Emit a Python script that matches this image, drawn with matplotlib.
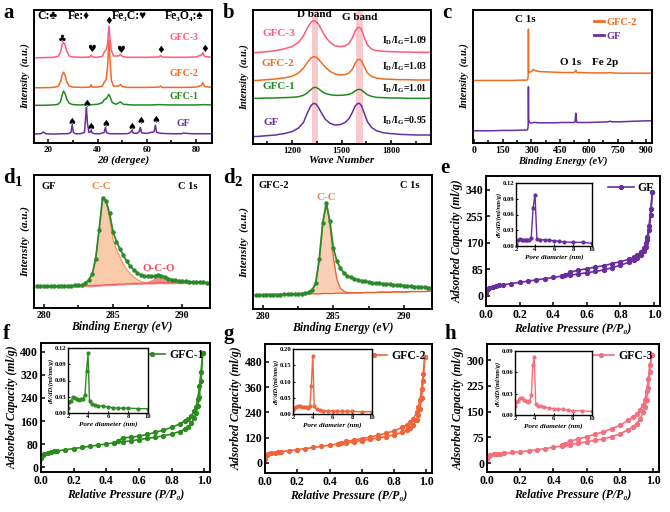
import matplotlib
matplotlib.use('Agg')
import matplotlib.pyplot as plt
from matplotlib.lines import Line2D
from matplotlib.ticker import MultipleLocator, FormatStrFormatter
import numpy as np

W, H = 670, 512
plt.rcParams['font.family'] = ['Liberation Serif', 'DejaVu Serif', 'DejaVu Sans']
plt.rcParams['font.weight'] = 'bold'
plt.rcParams['axes.labelweight'] = 'bold'
plt.rcParams['axes.linewidth'] = 1.4
plt.rcParams['xtick.direction'] = 'in'
plt.rcParams['ytick.direction'] = 'in'
plt.rcParams['mathtext.fontset'] = 'custom'
plt.rcParams['mathtext.rm'] = 'Liberation Serif:bold'
plt.rcParams['mathtext.it'] = 'Liberation Serif:italic:bold'
plt.rcParams['mathtext.bf'] = 'Liberation Serif:bold'

# ---------------- colours ----------------
C_GFC3 = '#FF5A7D'
C_GFC2 = '#F26A21'
C_GFC1 = '#1F8C1F'
C_GF = '#6A2DA0'

# ---------------- (a) XRD ----------------
xrd_gf_x = [14, 17, 18, 19, 22, 25, 28, 29.2, 29.7, 30.2, 31, 33, 34.7, 35.2, 35.5, 35.9, 36.5,
            37.0, 37.4, 37.9, 39, 41, 42.7, 43.2, 43.7, 45, 48, 52, 53.5, 54.0, 54.5, 56, 56.9,
            57.4, 57.9, 60, 63.0, 63.5, 64.0, 66, 70, 74, 75, 78, 82, 86.5]
xrd_gf_y = [27, 28, 33, 28, 27, 28, 28, 32, 54, 32, 28, 28, 32, 80, 107, 60, 32, 33, 38, 30,
            28, 28, 32, 47, 31, 28, 28, 28, 32, 38, 30, 29, 34, 47, 31, 29, 34, 54, 32, 29,
            28, 28, 30, 28, 28, 28]
xrd_gfc1_x = [14, 18, 22, 24, 25, 25.6, 26.2, 26.8, 27.5, 28.5, 30, 33, 35, 35.5, 36.5, 38, 40,
              42, 42.8, 43.5, 44.2, 44.6, 45.2, 46, 47.5, 48.7, 49.3, 50.5, 54, 58, 62, 65, 70,
              75, 80, 83, 86.5]
xrd_gfc1_y = [114, 114, 115, 117, 125, 145, 157, 150, 132, 120, 116, 115, 116, 121, 116, 116,
              117, 122, 132, 133, 142, 147, 138, 122, 117, 122, 124, 117, 115, 115, 115, 116,
              115, 115, 115, 116, 115]
xrd_gfc_x = [14, 18, 22, 24, 25, 25.6, 26.2, 26.8, 27.5, 28.5, 30, 34, 37, 37.4, 37.9, 40, 42,
             42.8, 43.5, 44.1, 44.6, 45.0, 45.6, 46.5, 48.6, 49.3, 50, 52, 56, 60, 65.0, 65.6,
             66.2, 70, 75, 80, 82.2, 82.8, 83.4, 86.5]
xrd_gfc2_y = [167, 167, 168, 171, 185, 205, 214, 205, 185, 172, 169, 168, 169, 176, 169, 169,
              172, 185, 192, 230, 312, 260, 190, 172, 172, 177, 171, 168, 168, 168, 169, 172,
              168, 168, 168, 169, 174, 182, 171, 168]
xrd_gfc3_y = [257, 258, 259, 262, 275, 297, 304, 297, 278, 263, 260, 259, 260, 266, 260, 259,
              262, 276, 282, 300, 354, 320, 280, 263, 263, 268, 262, 259, 259, 259, 260, 264,
              260, 259, 259, 260, 266, 273, 262, 259]
xrd_sym_x = [25.7, 37.4, 44.6, 49.3, 65.8, 83.4, 29.7, 35.5, 37.4, 43.2, 54.0, 57.4, 63.5]
xrd_sym_y = [314, 284, 370, 282, 280, 284, 64, 119, 47, 57, 49, 67, 70]
xrd_sym = ['♣', '♥', '♦', '♥', '♦', '♦', '♠', '♠', '♠', '♠', '♠', '♠', '♠']

# ---------------- (b) Raman ----------------
raman_x = [965, 1000, 1050, 1100, 1150, 1200, 1240, 1270, 1295, 1315, 1330, 1345, 1360, 1380,
           1400, 1430, 1460, 1490, 1520, 1545, 1565, 1580, 1595, 1608, 1620, 1635, 1655, 1680,
           1710, 1750, 1800, 1850, 1900, 1950, 2000, 2040]
raman_gf = [22, 23, 25, 27, 31, 37, 48, 65, 95, 115, 122, 120, 110, 92, 75, 62, 57, 58, 64, 76,
            95, 112, 121, 122, 115, 95, 68, 50, 40, 34, 31, 29, 28, 27, 27, 27]
raman_gfc1 = [137, 137, 138, 138, 139, 140, 142, 146, 154, 163, 169, 170, 166, 158, 152, 148,
              146, 146, 147, 149, 153, 159, 163, 164, 162, 156, 148, 143, 140, 139, 138, 138,
              137, 137, 137, 137]
raman_gfc2 = [190, 191, 193, 195, 198, 203, 213, 228, 246, 258, 262, 261, 255, 243, 231, 218,
              210, 207, 208, 213, 224, 240, 252, 254, 249, 234, 214, 203, 198, 195, 194, 193,
              193, 192, 192, 192]
raman_gfc3 = [274, 275, 277, 280, 285, 292, 305, 325, 350, 365, 370, 368, 360, 342, 323, 305,
              295, 292, 294, 302, 318, 338, 348, 350, 344, 322, 298, 285, 280, 278, 277, 276,
              276, 275, 275, 275]
idig_values = ['1.09', '1.03', '1.01', '0.95']

# ---------------- (c) XPS survey ----------------
xps_x = [-5, 50, 100, 150, 200, 250, 270, 280, 283, 284.5, 286, 290, 300, 310, 320, 340, 380,
         420, 460, 500, 520, 528, 532, 536, 545, 600, 650, 700, 710, 720, 760, 800, 850, 900, 930]
xps_gfc2 = [189, 189, 189, 189, 189, 190, 190, 191, 200, 344, 215, 214, 216, 222, 219, 216, 215,
            214, 213, 213, 213, 215, 220, 214, 213, 212, 212, 212, 213, 212, 211, 211, 211, 211, 211]
xps_gf = [37, 37, 37, 38, 38, 39, 39, 40, 50, 170, 70, 62, 60, 62, 62, 61, 61, 61, 62, 62, 62,
          64, 90, 63, 62, 62, 63, 64, 66, 64, 64, 65, 66, 67, 67]

# ---------------- (d1, d2) C 1s ----------------
be_x = [279.5, 279.75, 280.0, 280.25, 280.5, 280.75, 281.0, 281.25, 281.5, 281.75,
        282.0, 282.25, 282.5, 282.75, 283.0, 283.25, 283.5, 283.75, 284.0, 284.25,
        284.5, 284.75, 285.0, 285.25, 285.5, 285.75, 286.0, 286.25, 286.5, 286.75,
        287.0, 287.25, 287.5, 287.75, 288.0, 288.25, 288.5, 288.75, 289.0, 289.25,
        289.5, 289.75, 290.0, 290.25, 290.5, 290.75, 291.0, 291.25, 291.5, 291.75,
        292.0]
d1_env = [66, 66, 66, 66, 66, 66, 66, 67, 67, 67,
          67, 68, 68, 70, 74, 84, 102, 148, 236, 332,
          322, 285, 230, 200, 178, 158, 140, 126, 115, 106,
          100, 97, 95, 95, 97, 99, 97, 92, 88, 85,
          83, 82, 81, 80, 79, 78, 78, 77, 77, 76,
          76]
d1_bg = [64, 64, 64, 64, 65, 65, 65, 65, 65, 66,
         66, 66, 66, 66, 67, 67, 67, 68, 68, 69,
         70, 70, 71, 71, 72, 72, 73, 73, 74, 74,
         74, 75, 75, 75, 75, 76, 76, 76, 76, 76,
         76, 76, 76, 76, 76, 76, 76, 76, 76, 76,
         76]
d1_cc = [0, 0, 0, 0, 0, 0, 0, 0, 0, 0,
         0, 0, 0, 2, 7, 16, 34, 80, 168, 262,
         252, 200, 135, 105, 82, 60, 42, 30, 20, 12,
         6, 2, 0, 0, 0, 0, 0, 0, 0, 0,
         0, 0, 0, 0, 0, 0, 0, 0, 0, 0,
         0]
d1_oco = [0, 0, 0, 0, 0, 0, 0, 0, 0, 0,
          0, 0, 0, 0, 0, 0, 0, 0, 0, 0,
          0, 0, 0, 0, 0, 0, 0, 0, 0, 0,
          1, 3, 6, 10, 16, 20, 18, 13, 8, 5,
          3, 1, 0, 0, 0, 0, 0, 0, 0, 0,
          0]
d2_env = [43, 43, 43, 44, 44, 44, 44, 44, 45, 45,
          45, 46, 46, 47, 48, 51, 58, 80, 152, 262,
          322, 268, 185, 145, 124, 110, 101, 96, 92, 89,
          86, 84, 82, 80, 79, 78, 77, 76, 75, 74,
          73, 72, 71, 70, 69, 68, 68, 67, 66, 65,
          64]
d2_bg = [42, 42, 42, 43, 43, 43, 43, 44, 44, 44,
         44, 45, 45, 45, 45, 46, 46, 46, 46, 47,
         47, 47, 47, 48, 48, 48, 48, 49, 49, 49,
         49, 50, 50, 50, 50, 51, 51, 51, 51, 52,
         52, 52, 52, 52, 53, 53, 53, 53, 53, 54,
         54]
d2_cc = [0, 0, 0, 0, 0, 0, 0, 0, 0, 0,
         0, 0, 0, 0, 0, 2, 8, 30, 100, 210,
         272, 215, 110, 42, 15, 6, 2, 0, 0, 0,
         0, 0, 0, 0, 0, 0, 0, 0, 0, 0,
         0, 0, 0, 0, 0, 0, 0, 0, 0, 0,
         0]

# ---------------- (e-h) N2 isotherms ----------------
p_ads = [0.0, 0.01, 0.02, 0.04, 0.06, 0.08, 0.1, 0.15, 0.2, 0.25, 0.3, 0.35, 0.4, 0.45, 0.5,
         0.55, 0.6, 0.65, 0.7, 0.75, 0.8, 0.85, 0.88, 0.9, 0.92, 0.94, 0.95, 0.96, 0.97, 0.98, 0.99]
p_des = [0.99, 0.98, 0.97, 0.96, 0.95, 0.94, 0.92, 0.9, 0.88, 0.85, 0.8, 0.75, 0.7, 0.65, 0.6,
         0.55, 0.5, 0.47, 0.45]
gf_ads = [8, 22, 26, 29, 31, 33, 35, 39, 43, 47, 51, 55, 59, 63, 66, 70, 74, 78, 83, 90, 98,
          108, 115, 121, 130, 145, 158, 178, 210, 260, 335]
gf_des = [335, 280, 225, 190, 170, 155, 140, 130, 124, 117, 110, 103, 97, 92, 87, 82, 76, 66, 63]
gfc1_ads = [32, 42, 46, 50, 53, 55, 57, 61, 65, 69, 73, 77, 81, 85, 88, 92, 96, 100, 104, 109,
            115, 124, 132, 140, 152, 172, 188, 212, 245, 300, 395]
gfc1_des = [395, 330, 280, 235, 210, 195, 178, 168, 160, 150, 138, 129, 121, 114, 108, 104, 102,
            90, 85]
gfc2_ads = [20, 38, 43, 46, 49, 51, 53, 58, 63, 68, 73, 78, 84, 89, 95, 100, 106, 112, 118, 125,
            133, 145, 156, 166, 182, 205, 225, 255, 310, 390, 500]
gfc2_des = [500, 420, 350, 300, 265, 240, 210, 192, 180, 168, 152, 140, 131, 122, 115, 108, 102,
            94, 90]
gfc3_ads = [12, 20, 23, 25, 26, 27, 28, 31, 33, 36, 39, 42, 46, 50, 54, 58, 62, 66, 71, 77, 85,
            97, 106, 115, 128, 148, 162, 185, 220, 265, 315]
gfc3_des = [315, 285, 245, 210, 185, 170, 155, 143, 135, 125, 110, 100, 91, 84, 77, 70, 64, 57, 53]

psd_gf_x = [2.0, 2.2, 2.4, 2.6, 2.8, 3.0, 3.2, 3.4, 3.6, 3.8, 4.0, 4.2, 4.5, 5.0, 5.5, 6.0, 6.5,
            7.0, 8.0, 9.0, 10.0]
psd_gf_y = [0.003, 0.012, 0.013, 0.012, 0.012, 0.011, 0.011, 0.012, 0.015, 0.073, 0.098, 0.013,
            0.012, 0.012, 0.011, 0.010, 0.009, 0.008, 0.007, 0.007, 0.005]
psd_x = [2.0, 2.1, 2.3, 2.5, 2.7, 2.9, 3.1, 3.3, 3.5, 3.7, 3.85, 4.0, 4.15, 4.4, 4.7, 5.0, 5.5,
         6.0, 6.5, 7.0, 7.5, 8.0, 9.0, 10.0]
psd_gfc1_y = [0.010, 0.020, 0.022, 0.030, 0.028, 0.025, 0.024, 0.026, 0.026, 0.034, 0.078, 0.110,
              0.022, 0.016, 0.014, 0.013, 0.013, 0.011, 0.010, 0.009, 0.009, 0.009, 0.008, 0.008]
psd_gfc2_y = [0.012, 0.020, 0.022, 0.025, 0.024, 0.023, 0.022, 0.021, 0.020, 0.025, 0.085, 0.180,
              0.025, 0.014, 0.011, 0.010, 0.009, 0.009, 0.008, 0.008, 0.008, 0.008, 0.007, 0.007]
psd_gfc3_y = [0.012, 0.018, 0.020, 0.024, 0.024, 0.021, 0.019, 0.018, 0.019, 0.028, 0.070, 0.082,
              0.015, 0.013, 0.012, 0.011, 0.010, 0.009, 0.008, 0.008, 0.007, 0.006, 0.006, 0.005]

# ================= figure =================
fig = plt.figure(figsize=(W / 100, H / 100), dpi=100)


def box(l, t, r, b):
    return fig.add_axes([l / W, 1 - b / H, (r - l) / W, (b - t) / H])


def letter(x, y, s):
    fig.text(x / W, 1 - y / H, s, fontsize=15, fontweight='bold', ha='left', va='center')


def spec_axes(ax, xlabel, xsize=8, ysize=7.5, tsize=6.5):
    ax.set_yticks([])
    ax.set_xlabel(xlabel, fontsize=xsize, fontstyle='italic', labelpad=1)
    ax.set_ylabel('Intensity  (a.u.)', fontsize=ysize, fontstyle='italic', labelpad=3)
    ax.tick_params(axis='x', which='both', labelsize=tsize, width=1.1, pad=2)
    ax.tick_params(axis='x', which='major', length=3)
    ax.tick_params(axis='x', which='minor', length=2)


# ---- a ----
ax = box(34, 10, 212, 143)
ax.plot(xrd_gf_x, xrd_gf_y, color=C_GF, lw=1.1)
ax.plot(xrd_gfc1_x, xrd_gfc1_y, color=C_GFC1, lw=1.1)
ax.plot(xrd_gfc_x, xrd_gfc2_y, color=C_GFC2, lw=1.1)
ax.plot(xrd_gfc_x, xrd_gfc3_y, color=C_GFC3, lw=1.1)
for sx, sy, s in zip(xrd_sym_x, xrd_sym_y, xrd_sym):
    ax.text(sx, sy, s, fontsize=7, ha='center', va='center', family=['DejaVu Sans'])
for lab, yy, c in [('GFC-3', 320, C_GFC3), ('GFC-2', 210, C_GFC2),
                   ('GFC-1', 142, C_GFC1), ('GF', 58, C_GF)]:
    ax.text(75, yy, lab, color=c, fontsize=7, ha='center', va='center')
for xf, s in [(0.018, 'C:♣'), (0.19, 'Fe:♦'), (0.44, 'Fe₃C:♥'), (0.735, 'Fe₃O₄:♠')]:
    ax.text(xf, 0.955, s, transform=ax.transAxes, fontsize=8.5, ha='left', va='center')
ax.set_xlim(14.2, 86.5)
ax.set_ylim(0, 402)
ax.set_xticks([20, 40, 60, 80])
ax.xaxis.set_minor_locator(MultipleLocator(10))
spec_axes(ax, '2θ (dergee)')
letter(3, 13, 'a')

# ---- b ----
ax = box(253, 10, 431, 144)
ax.axvspan(1320, 1356, color='#F9C9CD', zorder=0, lw=0)
ax.axvspan(1590, 1628, color='#F9C9CD', zorder=0, lw=0)
ax.plot(raman_x, raman_gf, color=C_GF, lw=1.1)
ax.plot(raman_x, raman_gfc1, color=C_GFC1, lw=1.1)
ax.plot(raman_x, raman_gfc2, color=C_GFC2, lw=1.1)
ax.plot(raman_x, raman_gfc3, color=C_GFC3, lw=1.1)
for lab, xx, yy, c in [('GFC-3', 1119, 332, C_GFC3), ('GFC-2', 1113, 242, C_GFC2),
                       ('GFC-1', 1119, 172, C_GFC1), ('GF', 1073, 64, C_GF)]:
    ax.text(xx, yy, lab, color=c, fontsize=8, ha='center', va='center')
for v, yy in zip(idig_values, [310, 232, 167, 70]):
    ax.text(2018, yy, r'I$_\mathregular{D}$/I$_\mathregular{G}$=' + v, fontsize=7,
            ha='right', va='center')
ax.text(1335, 388, 'D band', fontsize=8, ha='center', va='center')
ax.text(1608, 380, 'G band', fontsize=8, ha='center', va='center')
ax.set_xlim(965, 2040)
ax.set_ylim(0, 402)
ax.set_xticks([1200, 1500, 1800])
ax.xaxis.set_minor_locator(MultipleLocator(150))
spec_axes(ax, 'Wave Number')
letter(223, 13, 'b')

# ---- c ----
ax = box(473, 10, 652, 143)
ax.plot(xps_x, xps_gfc2, color=C_GFC2, lw=1.1)
ax.plot(xps_x, xps_gf, color=C_GF, lw=1.1)
ax.text(267, 372, 'C 1s', fontsize=8, ha='center', va='center')
ax.text(503, 244, 'O 1s', fontsize=8, ha='center', va='center')
ax.text(684, 244, 'Fe 2p', fontsize=8, ha='center', va='center')
hdl = [Line2D([], [], color=C_GFC2, lw=2), Line2D([], [], color=C_GF, lw=2)]
leg = ax.legend(hdl, ['GFC-2', 'GF'], loc='upper left', bbox_to_anchor=(0.64, 0.99),
                frameon=False, fontsize=7.5, handlelength=1.0, handletextpad=0.2,
                labelspacing=0.45, borderaxespad=0.2)
for t, c in zip(leg.get_texts(), [C_GFC2, C_GF]):
    t.set_color(c)
ax.set_xlim(-5, 930)
ax.set_ylim(0, 402)
ax.set_xticks([0, 150, 300, 450, 600, 750, 900])
ax.xaxis.set_minor_locator(MultipleLocator(75))
spec_axes(ax, 'Binding Energy (eV)', xsize=7.5, tsize=7)
letter(442, 13, 'c')

# ---- d1 ----
be = np.array(be_x)
ax = box(34, 175, 210, 308)
bg = np.array(d1_bg)
ax.fill_between(be, bg, bg + np.array(d1_cc), color='#F8C29C', alpha=0.85, lw=0)
ax.plot(be, bg + np.array(d1_cc), color='#EE9457', lw=0.8)
ax.fill_between(be, bg - 3, bg + np.array(d1_oco), color='#F47A80', alpha=0.85, lw=0)
ax.plot(be, bg, color='#F05A60', lw=0.9)
ax.plot(be, d1_env, '-o', color='#2A8A2A', lw=1.3, ms=2.2)
ax.text(0.04, 0.91, 'GF', transform=ax.transAxes, fontsize=7.5, ha='left', va='center')
ax.text(0.93, 0.91, 'C 1s', transform=ax.transAxes, fontsize=7.5, ha='right', va='center')
ax.text(0.38, 0.91, 'C-C', transform=ax.transAxes, fontsize=8, color='#F08A40',
        ha='center', va='center')
ax.text(0.71, 0.30, 'O-C-O', transform=ax.transAxes, fontsize=8, color='#F04A5A',
        ha='center', va='center')
ax.set_xlim(279.3, 292.0)
ax.set_ylim(0, 400)
ax.set_xticks([280, 285, 290])
ax.xaxis.set_minor_locator(MultipleLocator(2.5))
spec_axes(ax, 'Binding Energy (eV)', xsize=8.5, ysize=8, tsize=7)
letter(3, 177, r'd$_\mathregular{1}$')

# ---- d2 ----
ax = box(253, 175, 432, 309)
bg = np.array(d2_bg)
ax.fill_between(be, bg, bg + np.array(d2_cc), color='#F9C8A8', alpha=0.85, lw=0)
ax.plot(be, bg + np.array(d2_cc), color='#F05A30', lw=0.9)
ax.plot(be, bg, color='#F05A30', lw=0.9)
ax.plot(be, d2_env, '-o', color='#2A8A2A', lw=1.3, ms=2.2)
ax.text(0.03, 0.92, 'GFC-2', transform=ax.transAxes, fontsize=7.5, ha='left', va='center')
ax.text(0.93, 0.92, 'C 1s', transform=ax.transAxes, fontsize=7.5, ha='right', va='center')
ax.text(0.41, 0.835, 'C-C', transform=ax.transAxes, fontsize=8, color='#F08A40',
        ha='center', va='center')
ax.set_xlim(279.3, 292.0)
ax.set_ylim(0, 407)
ax.set_xticks([280, 285, 290])
ax.xaxis.set_minor_locator(MultipleLocator(2.5))
spec_axes(ax, 'Binding Energy (eV)', xsize=8.5, ysize=8, tsize=7)
letter(223, 177, r'd$_\mathregular{2}$')


# ---- e-h ----
def iso(rect, irect, ads, des, px, py, color, label, ylim, yticks, iylim, iyticks):
    ax = box(*rect)
    ax.plot(p_ads, ads, '-o', color=color, lw=1.2, ms=2.8, label=label)
    ax.plot(p_des, des, '-o', color=color, lw=1.2, ms=2.8)
    ax.set_xlim(0, 1.035)
    ax.set_ylim(*ylim)
    ax.set_yticks(yticks)
    ax.set_xticks([0, 0.2, 0.4, 0.6, 0.8, 1.0])
    ax.xaxis.set_major_formatter(FormatStrFormatter('%.1f'))
    ax.tick_params(labelsize=8.5, width=1.1, length=3, pad=2)
    ax.set_xlabel('Relative Pressure (P/P₀)', fontsize=8.5, fontstyle='italic', labelpad=1)
    ax.set_ylabel('Adsorbed Capacity (ml/g)', fontsize=8.5, fontstyle='italic', labelpad=1)
    ax.legend(loc='upper right', frameon=False, fontsize=8.5, handlelength=2.2,
              handletextpad=0.3, borderaxespad=0.15)
    ia = box(*irect)
    ia.plot(px, py, '-o', color=color, lw=1.0, ms=2.0)
    ia.set_xlim(2, 10)
    ia.set_ylim(*iylim)
    ia.set_xticks([2, 4, 6, 8, 10])
    ia.set_yticks(iyticks)
    ia.yaxis.set_major_formatter(FormatStrFormatter('%.2f'))
    ia.tick_params(labelsize=4.8, width=0.8, length=1.5, pad=1)
    for s in ia.spines.values():
        s.set_linewidth(1.0)
    ia.set_xlabel('Pore diameter (nm)', fontsize=5.2, fontstyle='italic', labelpad=1)
    ia.set_ylabel('dV/dD/(ml/nm/g)', fontsize=4.6, fontstyle='italic', labelpad=1)
    return ax


iso((486, 176, 660, 306), (516, 183, 592, 246), gf_ads, gf_des, psd_gf_x, psd_gf_y,
    C_GF, 'GF', (-33, 385), [0, 85, 170, 255, 340], (0, 0.12),
    [0, 0.03, 0.06, 0.09, 0.12])
letter(440, 168, 'e')
iso((41, 343, 210, 472), (68, 348, 148, 413), gfc1_ads, gfc1_des, psd_x, psd_gfc1_y,
    '#2E8B22', 'GFC-1', (-16, 430), [0, 80, 160, 240, 320, 400], (0, 0.12),
    [0, 0.03, 0.06, 0.09, 0.12])
letter(3, 334, 'f')
iso((265, 344, 432, 473), (293, 349, 372, 414), gfc2_ads, gfc2_des, psd_x, psd_gfc2_y,
    '#F0643A', 'GFC-2', (-48, 564), [0, 120, 240, 360, 480], (0, 0.20),
    [0, 0.05, 0.10, 0.15, 0.20])
letter(223, 334, 'g')
iso((487, 344, 659, 472), (515, 351, 592, 415), gfc3_ads, gfc3_des, psd_x, psd_gfc3_y,
    '#F4707E', 'GFC-3', (-26, 347), [0, 75, 150, 225, 300], (0, 0.09),
    [0, 0.03, 0.06, 0.09])
letter(444, 334, 'h')

fig.savefig('out.png', dpi=100)
